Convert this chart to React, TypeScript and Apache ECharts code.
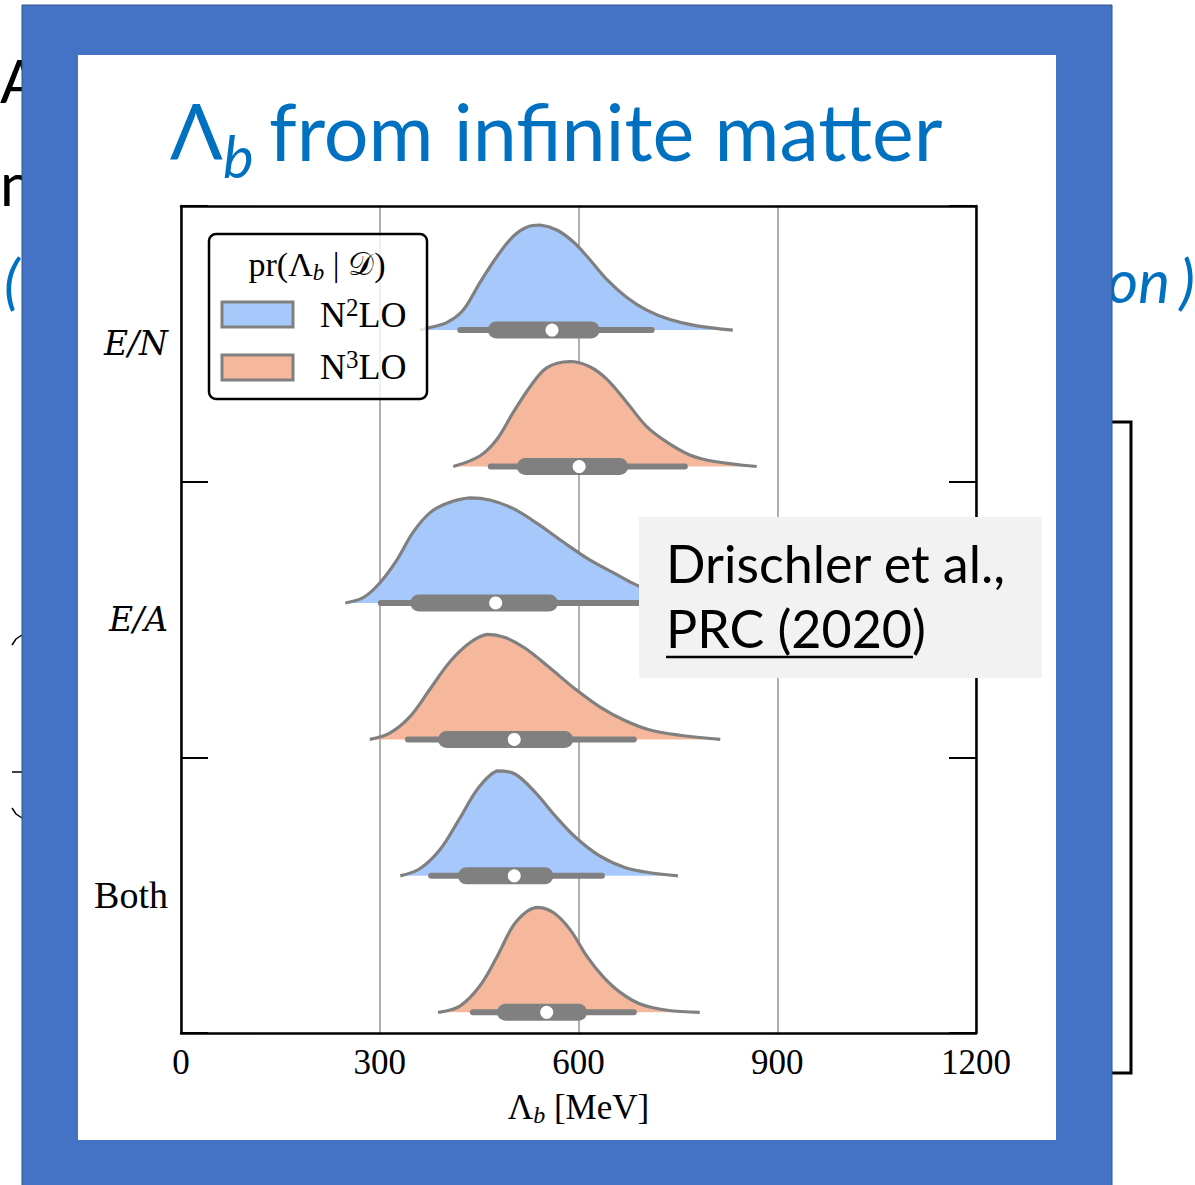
import React, { useEffect, useRef } from "react";
import * as echarts from "echarts";

// ---------------- data ----------------
const categories = ["E/N", "E/A", "Both"];
const orderNames = ["N²LO", "N³LO"];
const orderPowers = ["2", "3"];
const xTickValues = [0, 300, 600, 900, 1200];

// half-violin outlines: [Λb in MeV, relative density (peak = 1)]
const enN2lo = [[361, 0], [373, 0.02], [401, 0.07], [426, 0.19], [451, 0.45], [477, 0.7], [501, 0.89], [522, 0.98], [542, 1.0], [568, 0.95], [592, 0.84], [613, 0.7], [643, 0.48], [673, 0.31], [703, 0.19], [738, 0.1], [779, 0.04], [833, 0.0]];
const enN3lo = [[411, 0], [451, 0.1], [477, 0.26], [501, 0.51], [527, 0.76], [552, 0.94], [587, 1.0], [617, 0.95], [643, 0.83], [673, 0.61], [703, 0.38], [734, 0.23], [768, 0.11], [803, 0.05], [869, 0.0]];
const eaN2lo = [[248, 0], [275, 0.05], [300, 0.19], [326, 0.41], [350, 0.67], [376, 0.86], [402, 0.95], [436, 1.0], [466, 0.98], [501, 0.9], [537, 0.76], [577, 0.58], [617, 0.41], [658, 0.27], [688, 0.17], [720, 0.1], [760, 0.04], [810, 0.0]];
const eaN3lo = [[285, 0], [315, 0.06], [346, 0.22], [376, 0.48], [406, 0.74], [436, 0.92], [462, 1.0], [489, 0.97], [519, 0.87], [557, 0.68], [595, 0.48], [632, 0.31], [670, 0.18], [708, 0.09], [753, 0.04], [814, 0.0]];
const bothN2lo = [[331, 0], [361, 0.07], [391, 0.25], [421, 0.55], [448, 0.83], [477, 1.0], [504, 0.97], [534, 0.8], [565, 0.57], [595, 0.37], [632, 0.19], [670, 0.08], [708, 0.03], [750, 0.0]];
const bothN3lo = [[388, 0], [421, 0.06], [451, 0.25], [477, 0.53], [501, 0.82], [522, 0.96], [539, 1.0], [562, 0.95], [587, 0.79], [613, 0.53], [637, 0.34], [663, 0.19], [693, 0.08], [734, 0.02], [783, 0.0]];

// inner boxes: [whisker low, Q1, median, Q3, whisker high] in MeV
const boxN2lo = [[417, 463, 560, 632, 715], [297, 346, 475, 569, 720], [373, 418, 503, 562, 640]];
const boxN3lo = [[463, 507, 601, 675, 765], [338, 388, 503, 592, 688], [436, 477, 552, 613, 688]];

const curvesN2lo = [enN2lo, eaN2lo, bothN2lo];
const curvesN3lo = [enN3lo, eaN3lo, bothN3lo];

// ---------------- layout / style ----------------
const W = 1195;
const H = 1185;
const BLUE = "#A6C8FA";
const ORANGE = "#F6B89C";
const GRAY = "#808080";
const TITLE_BLUE = "#0070C0";
const SERIF = '"Liberation Serif", "DejaVu Serif", serif';
const SERIF_IT = '"DejaVu Serif", "Liberation Serif", serif';
const SANS = 'Lato, "Open Sans", "Noto Sans", sans-serif';
const ROW_BASE = [0.9, 1.89, 2.88, 3.87, 4.86, 5.85];
const PEAK = 0.762;

function violinRenderer(curves: number[][][], boxes: number[][], row: number, fill: string) {
  return (params: any, api: any) => {
    const ci = params.dataIndex;
    const base = ROW_BASE[ci * 2 + row];
    const pts = curves[ci].map(([m, h]) => api.coord([m, base - h * PEAK]));
    let minX = Infinity, minY = Infinity, maxX = -Infinity, maxY = -Infinity;
    pts.forEach(([x, y]: number[]) => {
      minX = Math.min(minX, x); maxX = Math.max(maxX, x);
      minY = Math.min(minY, y); maxY = Math.max(maxY, y);
    });
    const cons = [[minX, minY], [maxX, maxY]];
    const [wl, q1, md, q3, wh] = boxes[ci];
    const at = (m: number) => api.coord([m, base]);
    const pwl = at(wl), pq1 = at(q1), pmd = at(md), pq3 = at(q3), pwh = at(wh);
    const thin = 6, thick = 17;
    return {
      type: "group",
      children: [
        { type: "polygon", shape: { points: pts, smooth: 0.35, smoothConstraint: cons }, style: { fill, stroke: "none" } },
        { type: "polyline", shape: { points: pts, smooth: 0.35, smoothConstraint: cons }, style: { fill: "none", stroke: GRAY, lineWidth: 3.2 } },
        { type: "line", shape: { x1: pwl[0] + thin / 2, y1: pwl[1], x2: pwh[0] - thin / 2, y2: pwh[1] }, style: { stroke: GRAY, lineWidth: thin, lineCap: "round" } },
        { type: "line", shape: { x1: pq1[0] + thick / 2, y1: pq1[1], x2: pq3[0] - thick / 2, y2: pq3[1] }, style: { stroke: GRAY, lineWidth: thick, lineCap: "round" } },
        { type: "circle", shape: { cx: pmd[0], cy: pmd[1], r: 6.5 }, style: { fill: "#fff" } },
      ],
    };
  };
}

function txt(text: string, x: number, y: number, o: any = {}) {
  const { z = 60, ...style } = o;
  return {
    type: "text",
    z,
    style: {
      text, x, y,
      align: style.align || "left", textAlign: style.align || "left",
      verticalAlign: "middle", textVerticalAlign: "middle",
      ...style,
    },
  };
}

function legendLabel(i: number, y: number) {
  const [head, tail] = orderNames[i].split(/[²³]/);
  return {
    type: "text", z: 61,
    style: {
      x: 320, y, align: "left", textAlign: "left", verticalAlign: "middle", textVerticalAlign: "middle",
      text: `{a|${head}}{p|${orderPowers[i]}}{a|${tail}}`,
      rich: {
        a: { fontFamily: SERIF, fontSize: 36, lineHeight: 40, fill: "#000" },
        p: { fontFamily: SERIF, fontSize: 25, lineHeight: 22, verticalAlign: "top", fill: "#000" },
      },
    },
  };
}

export default function App() {
  const ref = useRef<HTMLDivElement>(null);
  useEffect(() => {
    if (!ref.current) return;
    const chart = echarts.init(ref.current, null, { renderer: "svg", width: W, height: H });

    const axisLine = { show: true, onZero: false, lineStyle: { color: "#000", width: 2.5 } };

    const graphics: any[] = [
      // slide text behind the frame
      txt("A", 0, 80, { fontSize: 60, fontFamily: SANS, fill: "#000", z: -20 }),
      txt("n", 0, 183, { fontSize: 60, fontFamily: SANS, fill: "#000", z: -20 }),
      txt("(", 4, 280, { fontSize: 60, fontFamily: SANS, fontStyle: "italic", fill: TITLE_BLUE, z: -20 }),
      txt(")", 1195, 280, { fontSize: 60, fontFamily: SANS, fontStyle: "italic", fill: TITLE_BLUE, align: "right", z: -20 }),
      txt("on", 1170, 280, { fontSize: 60, fontFamily: SANS, fontStyle: "italic", fill: TITLE_BLUE, align: "right", z: -20 }),
      { type: "polyline", z: -20, shape: { points: [[12, 645], [16, 639], [22, 635]] }, style: { stroke: "#000", lineWidth: 1.5, fill: "none" } },
      { type: "line", z: -20, shape: { x1: 12, y1: 772, x2: 22, y2: 772 }, style: { stroke: "#000", lineWidth: 1.5 } },
      { type: "polyline", z: -20, shape: { points: [[12, 808], [16, 814], [22, 818]] }, style: { stroke: "#000", lineWidth: 1.5, fill: "none" } },
      { type: "polyline", z: -20, shape: { points: [[1112, 422], [1131, 422], [1131, 1073], [1112, 1073]] }, style: { stroke: "#000", lineWidth: 3, fill: "none" } },
      // frame
      { type: "rect", z: -15, shape: { x: 22, y: 5, width: 1090, height: 1185 }, style: { fill: "#4472C4", stroke: "#2F528F", lineWidth: 1 } },
      { type: "rect", z: -14, shape: { x: 78, y: 55, width: 978, height: 1085 }, style: { fill: "#fff" } },
      // title
      txt("Λ", 170, 130, { fontSize: 78, fontFamily: SANS, fill: TITLE_BLUE }),
      txt("b", 223, 155, { fontSize: 58, fontFamily: SANS, fontStyle: "italic", fill: TITLE_BLUE }),
      txt("from infinite matter", 269, 130, { fontSize: 79, fontFamily: SANS, fill: TITLE_BLUE }),
      // legend
      { type: "rect", z: 60, shape: { x: 209, y: 234, width: 218, height: 165, r: 7 }, style: { fill: "rgba(255,255,255,0.8)", stroke: "#000", lineWidth: 2.5 } },
      {
        type: "text", z: 61,
        style: {
          x: 317, y: 264, align: "center", textAlign: "center", verticalAlign: "middle", textVerticalAlign: "middle",
          text: "{a|pr(Λ}{s|b}{a| | }{d|𝒟}{a|)}",
          rich: {
            a: { fontFamily: SERIF, fontSize: 34, lineHeight: 40, fill: "#000" },
            s: { fontFamily: SERIF, fontSize: 23, fontStyle: "italic", lineHeight: 24, verticalAlign: "bottom", fill: "#000" },
            d: { fontFamily: '"DejaVu Serif", "DejaVu Sans", serif', fontSize: 32, lineHeight: 40, fill: "#000" },
          },
        },
      },
      { type: "rect", z: 61, shape: { x: 222, y: 302, width: 71, height: 25 }, style: { fill: BLUE, stroke: GRAY, lineWidth: 3 } },
      { type: "rect", z: 61, shape: { x: 222, y: 355, width: 71, height: 25 }, style: { fill: ORANGE, stroke: GRAY, lineWidth: 3 } },
      legendLabel(0, 315),
      legendLabel(1, 367),
      // citation box
      { type: "rect", z: 70, shape: { x: 639, y: 517, width: 403, height: 161 }, style: { fill: "#F2F2F2" } },
      txt("Drischler et al.,", 666, 563, { fontSize: 52, fontFamily: SANS, fill: "#000", z: 71 }),
      txt("PRC (2020)", 666, 628, { fontSize: 52, fontFamily: SANS, fill: "#000", z: 71 }),
      { type: "line", z: 71, shape: { x1: 666, y1: 657, x2: 913, y2: 657 }, style: { stroke: "#000", lineWidth: 2.5 } },
    ];

    chart.setOption({
      animation: false,
      backgroundColor: "#fff",
      grid: { left: 181, right: W - 976, top: 206, bottom: H - 1033, containLabel: false },
      xAxis: [
        {
          type: "value", min: xTickValues[0], max: xTickValues[xTickValues.length - 1], interval: 300, position: "bottom",
          axisLine, axisTick: { show: false },
          axisLabel: { fontFamily: SERIF, fontSize: 35, color: "#000", margin: 12, formatter: (v: number) => String(v) },
          splitLine: { show: true, lineStyle: { color: "#b0b0b0", width: 2 } },
          name: "{a|Λ}{s|b}{a| [MeV]}", nameLocation: "middle", nameGap: 54,
          nameTextStyle: {
            rich: {
              a: { fontFamily: SERIF, fontSize: 35, lineHeight: 40, color: "#000" },
              s: { fontFamily: SERIF, fontSize: 24, fontStyle: "italic", lineHeight: 26, verticalAlign: "bottom", color: "#000" },
            },
          },
        },
        {
          type: "value", min: 0, max: 1200, position: "top",
          axisLine, axisTick: { show: false }, axisLabel: { show: false }, splitLine: { show: false },
        },
      ],
      yAxis: [
        {
          type: "category", data: categories, inverse: true, position: "left", boundaryGap: true,
          axisLine, axisTick: { show: true, inside: true, length: 27, lineStyle: { color: "#000", width: 2 } },
          axisLabel: {
            fontFamily: SERIF, fontSize: 36, color: "#000", margin: 13,
            formatter: (v: string) => (v === "Both" ? `{r|${v}}` : `{i|${v}}`),
            rich: {
              i: { fontFamily: SERIF_IT, fontSize: 33, fontStyle: "italic", color: "#000" },
              r: { fontFamily: SERIF, fontSize: 38, color: "#000" },
            },
          },
          splitLine: { show: false },
        },
        {
          type: "category", data: categories, inverse: true, position: "right", boundaryGap: true,
          axisLine, axisTick: { show: true, inside: true, length: 27, lineStyle: { color: "#000", width: 2 } },
          axisLabel: { show: false }, splitLine: { show: false },
        },
        { type: "value", min: 0, max: 6, inverse: true, show: false },
      ],
      series: [
        {
          type: "custom", name: orderNames[0], xAxisIndex: 0, yAxisIndex: 2, z: 3,
          data: categories.map((_, i) => [i, i]),
          renderItem: violinRenderer(curvesN2lo, boxN2lo, 0, BLUE),
        },
        {
          type: "custom", name: orderNames[1], xAxisIndex: 0, yAxisIndex: 2, z: 3,
          data: categories.map((_, i) => [i, i]),
          renderItem: violinRenderer(curvesN3lo, boxN3lo, 1, ORANGE),
        },
      ],
      graphic: { elements: graphics },
    });
    return () => chart.dispose();
  }, []);

  return <div ref={ref} style={{ position: "fixed", left: 0, top: 0, width: W, height: H }} />;
}
